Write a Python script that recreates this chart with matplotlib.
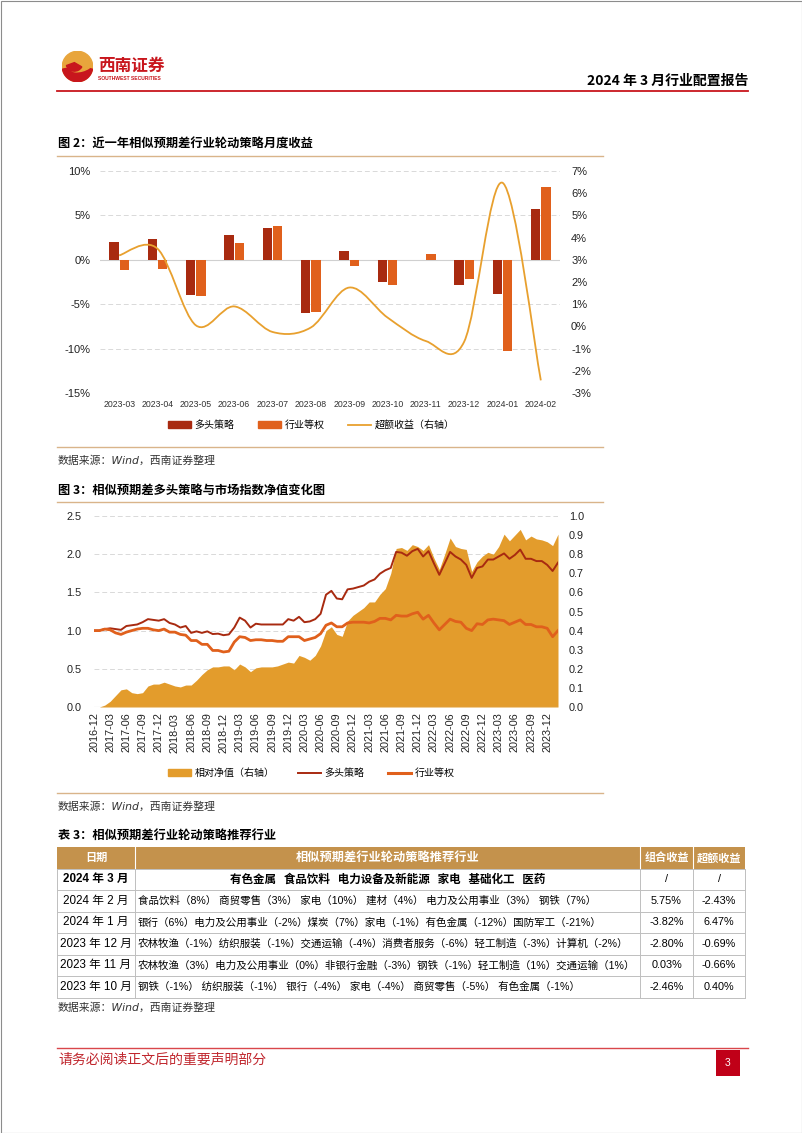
import matplotlib
matplotlib.use("Agg")
import matplotlib.pyplot as plt
import matplotlib.patches as mpatches
from matplotlib.lines import Line2D
from matplotlib.path import Path
from matplotlib.ticker import MultipleLocator, FuncFormatter
import numpy as np
import pandas as pd

plt.rcParams['font.family'] = ['Liberation Sans', 'Noto Sans CJK SC', 'DejaVu Sans']
plt.rcParams['axes.unicode_minus'] = False

W, H = 802, 1133
CJK = ['Noto Sans CJK SC', 'DejaVu Sans']

# ---- 图2: 月度收益 ----
months_1 = ['2023-03', '2023-04', '2023-05', '2023-06', '2023-07', '2023-08',
            '2023-09', '2023-10', '2023-11', '2023-12', '2024-01', '2024-02']
long_ret = [2.0, 2.3, -4.0, 2.8, 3.6, -6.0, 1.0, -2.46, 0.03, -2.80, -3.82, 5.75]
equal_ret = [-1.1, -1.0, -4.1, 1.9, 3.8, -5.9, -0.7, -2.86, 0.69, -2.11, -10.29, 8.18]
excess_ret = [3.2, 3.5, 0.05, 0.9, -0.25, -0.05, 1.75, 0.40, -0.66, -0.69, 6.47, -2.43]

# ---- 图3: 净值 (2016-12 ~ 2024-02, 月度) ----
long_nav = [1.00,
            1.00, 1.02, 1.03, 1.02, 1.01, 1.06, 1.07, 1.08, 1.11, 1.15, 1.14, 1.13,
            1.15, 1.10, 1.08, 1.04, 1.06, 0.97, 0.99, 0.97, 0.99, 0.955, 0.96, 0.94,
            0.95, 1.04, 1.17, 1.13, 1.04, 1.09, 1.08, 1.08, 1.08, 1.08, 1.08, 1.15,
            1.13, 1.18, 1.11, 1.12, 1.15, 1.22, 1.47, 1.52, 1.42, 1.41, 1.54, 1.55,
            1.57, 1.59, 1.64, 1.67, 1.745, 1.79, 1.82, 2.03, 2.02, 1.98, 2.04, 2.07,
            1.97, 2.04, 1.88, 1.73, 1.88, 2.03, 1.97, 1.93, 1.86, 1.69, 1.82, 1.84,
            1.93, 1.93, 1.97, 2.01, 1.94, 1.99, 2.06, 1.94, 1.94, 1.91, 1.91, 1.86,
            1.78, 1.89]
equal_nav = [1.00,
             1.00, 1.02, 1.01, 0.97, 0.95, 0.98, 1.00, 1.02, 1.03, 1.03, 1.01, 1.00,
             1.02, 0.98, 0.98, 0.95, 0.94, 0.87, 0.87, 0.82, 0.82, 0.74, 0.74, 0.72,
             0.73, 0.85, 0.92, 0.91, 0.87, 0.88, 0.88, 0.87, 0.87, 0.86, 0.86, 0.92,
             0.92, 0.92, 0.87, 0.89, 0.91, 0.96, 1.07, 1.10, 1.05, 1.05, 1.10, 1.11,
             1.11, 1.11, 1.10, 1.12, 1.16, 1.16, 1.14, 1.20, 1.19, 1.19, 1.22, 1.24,
             1.15, 1.20, 1.10, 1.01, 1.08, 1.15, 1.12, 1.11, 1.03, 1.00, 1.09, 1.08,
             1.14, 1.15, 1.14, 1.13, 1.08, 1.11, 1.14, 1.08, 1.08, 1.05, 1.05, 1.03,
             0.92, 1.00]
rel_nav = [0.00,
           0.00, 0.01, 0.03, 0.06, 0.09, 0.095, 0.075, 0.07, 0.075, 0.11, 0.12, 0.12,
           0.13, 0.12, 0.11, 0.105, 0.115, 0.115, 0.14, 0.17, 0.195, 0.21, 0.21, 0.215,
           0.215, 0.195, 0.225, 0.21, 0.185, 0.205, 0.21, 0.21, 0.21, 0.215, 0.225, 0.235,
           0.23, 0.27, 0.26, 0.245, 0.27, 0.32, 0.40, 0.42, 0.38, 0.37, 0.45, 0.48,
           0.50, 0.52, 0.55, 0.55, 0.59, 0.62, 0.70, 0.83, 0.835, 0.82, 0.85, 0.84,
           0.82, 0.85, 0.78, 0.72, 0.80, 0.885, 0.84, 0.83, 0.825, 0.71, 0.76, 0.79,
           0.81, 0.80, 0.84, 0.905, 0.87, 0.90, 0.93, 0.875, 0.895, 0.88, 0.875, 0.865,
           0.845, 0.905]
nav_dates = pd.date_range('2016-12-01', periods=len(long_nav), freq='MS').strftime('%Y-%m')

# ---- 表3 ----
table_header = ['日期', '相似预期差行业轮动策略推荐行业', '组合收益', '超额收益']
table_dates = ['2024 年 3 月', '2024 年 2 月', '2024 年 1 月', '2023 年 12 月', '2023 年 11 月', '2023 年 10 月']
table_inds = ['有色金属   食品饮料   电力设备及新能源   家电   基础化工   医药',
              '食品饮料（8%） 商贸零售（3%） 家电（10%） 建材（4%） 电力及公用事业（3%） 钢铁（7%）',
              '银行（6%）电力及公用事业（-2%）煤炭（7%）家电（-1%）有色金属（-12%）国防军工（-21%）',
              '农林牧渔（-1%）纺织服装（-1%）交通运输（-4%）消费者服务（-6%）轻工制造（-3%）计算机（-2%）',
              '农林牧渔（3%）电力及公用事业（0%）非银行金融（-3%）钢铁（-1%）轻工制造（1%）交通运输（1%）',
              '钢铁（-1%） 纺织服装（-1%） 银行（-4%） 家电（-4%） 商贸零售（-5%） 有色金属（-1%）']
table_port = ['/', '5.75%', '-3.82%', '-2.80%', '0.03%', '-2.46%']
table_excess = ['/', '-2.43%', '6.47%', '-0.69%', '-0.66%', '0.40%']

DARK = '#A82A10'
ORANGE = '#E0601C'
GOLD = '#E39C2C'
TAN = '#D9B48A'
RED = '#C8161D'
GRID = '#D9D9D9'
SRC_FONT = ['DejaVu Sans', 'Noto Sans CJK SC']


def px_axes(fig, left, top, right, bottom):
    return fig.add_axes([left / W, 1 - bottom / H, (right - left) / W, (bottom - top) / H])


def smooth_path(xs, ys):
    # Excel-style smoothed line: cubic Bezier through the points
    pts = np.column_stack([xs, ys]).astype(float)
    n = len(pts)
    verts = [pts[0]]
    codes = [Path.MOVETO]
    for i in range(n - 1):
        p0 = pts[i - 1] if i > 0 else pts[i]
        p1, p2 = pts[i], pts[i + 1]
        p3 = pts[i + 2] if i + 2 < n else pts[i + 1]
        verts += [p1 + (p2 - p0) / 6, p2 - (p3 - p1) / 6, p2]
        codes += [Path.CURVE4] * 3
    return Path(verts, codes)


fig = plt.figure(figsize=(W / 100, H / 100), dpi=100)

# page overlay in pixel coordinates
bg = fig.add_axes([0, 0, 1, 1])
bg.set_xlim(0, W)
bg.set_ylim(H, 0)
bg.axis('off')

bg.add_patch(mpatches.Rectangle((0.5, 0.5), W - 1, H - 1, fill=False, ec='#8C8C8C', lw=0.8))

# logo
logo = px_axes(fig, 62, 51, 93, 82)
logo.set_xlim(-1, 1)
logo.set_ylim(-1, 1)
logo.set_aspect('equal')
logo.axis('off')
logo.add_patch(mpatches.Circle((0, 0), 0.98, color='#E8A53C'))
logo.add_patch(mpatches.Wedge((0, 0), 0.98, 190, 350, color=RED))
logo.add_patch(mpatches.Ellipse((0.25, -0.05), 1.3, 0.5, angle=15, color='#E8A53C'))
logo.add_patch(mpatches.Wedge((-0.2, 0.25), 0.55, 200, 330, color=RED))
bg.text(98, 66, '西南证券', fontsize=12, color=RED, fontweight='bold', family=CJK, va='center', ha='left')
bg.text(98, 78.5, 'SOUTHWEST SECURITIES', fontsize=3.6, color=RED, fontweight='bold', va='center', ha='left')
bg.text(748, 81, '2024 年 3 月行业配置报告', fontsize=10, fontweight='bold', family=CJK, ha='right', va='center')
bg.plot([57, 748], [91, 91], color=RED, lw=1.3)

# titles, rules, sources
bg.text(58, 144, '图 2：近一年相似预期差行业轮动策略月度收益', fontsize=8.8, fontweight='bold', family=CJK, va='center')
bg.plot([57, 603], [156, 156], color=TAN, lw=1.0)
bg.plot([57, 603], [447, 447], color=TAN, lw=1.0)
bg.text(58, 461, '数据来源：Wind，西南证券整理', fontsize=7.8, style='italic', color='#333333', va='center',
        family=SRC_FONT)
bg.text(58, 490, '图 3：相似预期差多头策略与市场指数净值变化图', fontsize=8.8, fontweight='bold', family=CJK, va='center')
bg.plot([57, 603], [502, 502], color=TAN, lw=1.0)
bg.plot([57, 603], [793, 793], color=TAN, lw=1.0)
bg.text(58, 807, '数据来源：Wind，西南证券整理', fontsize=7.8, style='italic', color='#333333', va='center',
        family=SRC_FONT)
bg.text(58, 835, '表 3：相似预期差行业轮动策略推荐行业', fontsize=8.8, fontweight='bold', family=CJK, va='center')
bg.text(58, 1008, '数据来源：Wind，西南证券整理', fontsize=7.8, style='italic', color='#333333', va='center',
        family=SRC_FONT)

# ---- table ----
col_x = [57, 135, 640, 693, 745]
row_top = 847
row_h = 21.5
n_rows = len(table_dates) + 1
bg.add_patch(mpatches.Rectangle((col_x[0], row_top), col_x[-1] - col_x[0], row_h, color='#C4924C', lw=0))
for i, txt in enumerate(table_header):
    cx = (col_x[i] + col_x[i + 1]) / 2
    fs = 8.8 if i == 1 else 8.0
    bg.text(cx, row_top + row_h / 2, txt, fontsize=fs, color='white', fontweight='bold', family=CJK,
            ha='center', va='center')
for xv in col_x[1:-1]:
    bg.plot([xv, xv], [row_top, row_top + row_h], color='white', lw=0.8)
for xv in col_x:
    bg.plot([xv, xv], [row_top + row_h, row_top + n_rows * row_h], color='#BFBFBF', lw=0.7)
for k in range(1, n_rows + 1):
    yv = row_top + k * row_h
    bg.plot([col_x[0], col_x[-1]], [yv, yv], color='#BFBFBF', lw=0.7)
for r in range(len(table_dates)):
    cy = row_top + (r + 1.5) * row_h
    bold = 'bold' if r == 0 else 'normal'
    bg.text((col_x[0] + col_x[1]) / 2, cy, table_dates[r], fontsize=8.4, fontweight=bold,
            ha='center', va='center')
    if r == 0:
        bg.text((col_x[1] + col_x[2]) / 2, cy, table_inds[r], fontsize=8.3, fontweight='bold',
                family=CJK, ha='center', va='center')
    else:
        bg.text(col_x[1] + 3, cy, table_inds[r], fontsize=7.55, ha='left', va='center')
    bg.text((col_x[2] + col_x[3]) / 2, cy, table_port[r], fontsize=7.8, ha='center', va='center')
    bg.text((col_x[3] + col_x[4]) / 2, cy, table_excess[r], fontsize=7.8, ha='center', va='center')

# footer
bg.plot([57, 748], [1048, 1048], color='#D9464B', lw=1.0)
bg.text(58, 1060, '请务必阅读正文后的重要声明部分', fontsize=10, color='#C0262D', family=CJK, va='center')
bg.add_patch(mpatches.Rectangle((716, 1050), 24, 26, color='#C00018', lw=0))
bg.text(728, 1063, '3', fontsize=7.5, color='white', ha='center', va='center')

# ---- chart 1 ----
ax1 = px_axes(fig, 100, 171, 560, 393)
x1 = np.arange(len(months_1))
ax1.bar(x1 - 0.135, long_ret, width=0.245, color=DARK, zorder=3)
ax1.bar(x1 + 0.135, equal_ret, width=0.245, color=ORANGE, zorder=3)
ax1.set_xlim(-0.5, len(months_1) - 0.5)
ax1.set_ylim(-15, 10)
ax1.yaxis.set_major_locator(MultipleLocator(5))
ax1.yaxis.set_major_formatter(FuncFormatter(lambda v, p: f'{v:.0f}%'))
for v in [10, 5, -5, -10, -15]:
    ax1.axhline(v, color=GRID, lw=0.7, ls=(0, (5, 3)), zorder=1)
ax1.axhline(0, color='#D0D0D0', lw=0.8, zorder=2)
ax1.set_xticks(x1)
ax1.set_xticklabels(months_1, fontsize=6.3, color='#333333')
ax1.tick_params(axis='both', length=0)
ax1.tick_params(axis='y', labelsize=8, pad=7, colors='#222222')
ax1.tick_params(axis='x', pad=5)
for s in ax1.spines.values():
    s.set_visible(False)
ax1.patch.set_visible(False)

ax1b = ax1.twinx()
ax1b.set_ylim(-3, 7)
ax1b.yaxis.set_major_locator(MultipleLocator(1))
ax1b.yaxis.set_major_formatter(FuncFormatter(lambda v, p: f'{v:.0f}%'))
ax1b.tick_params(axis='y', length=0, labelsize=8, pad=8, colors='#222222')
for s in ax1b.spines.values():
    s.set_visible(False)
ax1b.add_patch(mpatches.PathPatch(smooth_path(x1, excess_ret), fill=False, ec='#E8A02E', lw=1.3, zorder=4))

h1 = [mpatches.Patch(color=DARK), mpatches.Patch(color=ORANGE), Line2D([], [], color='#E8A02E', lw=1.3)]
ax1.legend(h1, ['多头策略', '行业等权', '超额收益（右轴）'], loc='center', bbox_to_anchor=(311 / W, 1 - 425 / H),
           bbox_transform=fig.transFigure, ncol=3, frameon=False, handlelength=2.3,
           handleheight=0.6, columnspacing=2.3, handletextpad=0.4, prop={'family': CJK, 'size': 7.2})

# ---- chart 2 ----
ax2 = px_axes(fig, 94, 516, 558, 707)
x2 = np.arange(len(long_nav))
ax2b = ax2.twinx()
ax2b.set_ylim(0, 1.0)
for v in [0.2, 0.4, 0.6, 0.8, 1.0]:
    ax2b.axhline(v, color=GRID, lw=0.7, ls=(0, (5, 3)), zorder=1)
ax2b.fill_between(x2, 0, rel_nav, color=GOLD, lw=0, zorder=2)
ax2b.yaxis.set_major_locator(MultipleLocator(0.1))
ax2b.yaxis.set_major_formatter(FuncFormatter(lambda v, p: f'{v:.1f}'))
ax2b.tick_params(axis='y', length=0, labelsize=7.8, pad=8, colors='#222222')

ax2.set_zorder(ax2b.get_zorder() + 1)
ax2.patch.set_visible(False)
ax2.plot(x2, long_nav, color=DARK, lw=1.4, zorder=3)
ax2.plot(x2, equal_nav, color=ORANGE, lw=2.0, zorder=3)
ax2.set_xlim(0, len(long_nav) - 1)
ax2.set_ylim(0, 2.5)
ax2.yaxis.set_major_locator(MultipleLocator(0.5))
ax2.yaxis.set_major_formatter(FuncFormatter(lambda v, p: f'{v:.1f}'))
ax2.set_xticks(x2[::3])
ax2.set_xticklabels(nav_dates[::3], rotation=90, fontsize=7.8, color='#222222')
ax2.tick_params(axis='y', length=0, labelsize=7.8, pad=9, colors='#222222')
ax2.tick_params(axis='x', length=0, pad=4)
for a in (ax2, ax2b):
    for s in a.spines.values():
        s.set_visible(False)
ax2.axhline(0, color='#BFBFBF', lw=0.8, zorder=4)

h2 = [mpatches.Patch(color=GOLD), Line2D([], [], color=DARK, lw=1.4), Line2D([], [], color=ORANGE, lw=2.2)]
ax2.legend(h2, ['相对净值（右轴）', '多头策略', '行业等权'], loc='center', bbox_to_anchor=(311 / W, 1 - 773 / H),
           bbox_transform=fig.transFigure, ncol=3, frameon=False, handlelength=2.3, handleheight=0.6,
           columnspacing=2.3, handletextpad=0.4, prop={'family': CJK, 'size': 7.2})

fig.savefig('out.png', dpi=100)
